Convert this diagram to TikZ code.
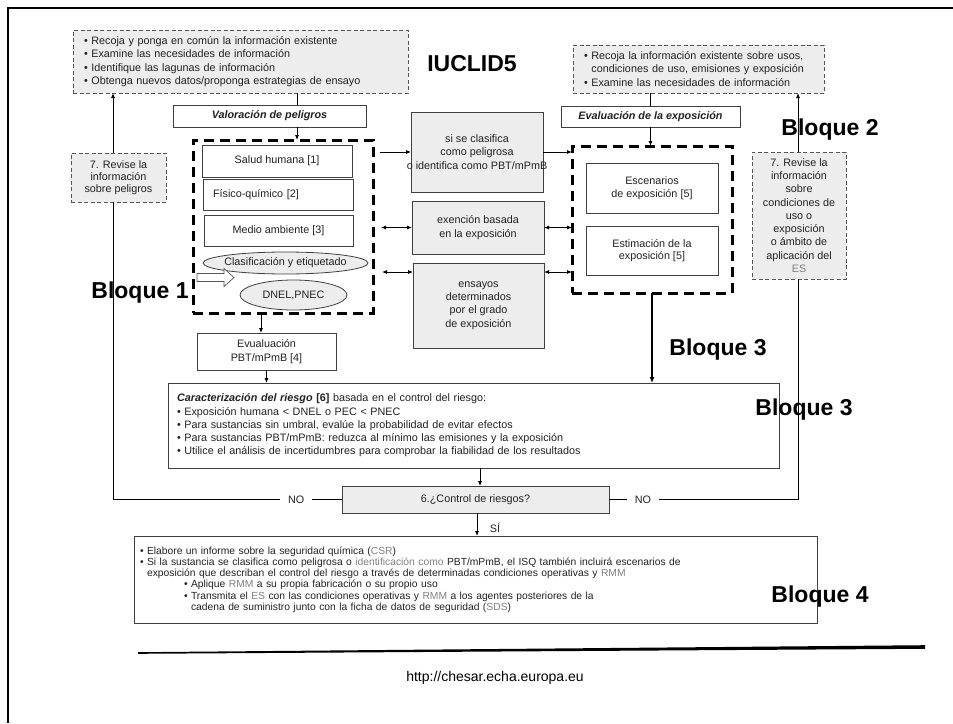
\documentclass[tikz,border=0pt]{standalone}
\usepackage{fontspec}
\setmainfont{Liberation Sans}
\usetikzlibrary{arrows.meta,shapes.geometric,calc}
\definecolor{boxgray}{HTML}{EDEDED}
\definecolor{edgecol}{HTML}{404040}
\definecolor{txt}{HTML}{222222}
\definecolor{soft}{HTML}{808080}
\definecolor{dashcol}{HTML}{555555}
\newcommand\mainfs{\fontsize{10.8}{13.3}\selectfont}
\newcommand\carfs{\fontsize{10.8}{13.3}\selectfont}
\newcommand\botfs{\fontsize{10.3}{11.2}\selectfont}
\newcommand\bigfs{\fontsize{23}{26}\selectfont\bfseries}
\begin{document}
\begin{tikzpicture}[x=1pt,y=-1pt,
  every node/.style={inner sep=0pt, outer sep=0pt, text=txt, font=\mainfs},
  box/.style={draw=edgecol, line width=0.8pt, fill=white, align=center},
  gbox/.style={box, fill=boxgray},
  dbox/.style={draw=dashcol, dash pattern=on 4pt off 2.5pt, line width=0.8pt, fill=boxgray, align=center},
  blk/.style={draw=black, line width=3pt, dash pattern=on 10pt off 6pt},
  big/.style={font=\bigfs, text=black},
  conn/.style={line width=0.8pt},
  arr/.style={-{Latex[length=5pt,width=4pt]}, line width=0.8pt},
  darr/.style={{Latex[length=5pt,width=4pt]}-{Latex[length=5pt,width=4pt]}, line width=0.8pt},
  nolab/.style={fill=white, inner xsep=8pt, inner ysep=2pt}]
\useasboundingbox (0,0) rectangle (953,723);
\fill[white] (0,0) rectangle (953,723);
\draw[line width=2.5pt] (953,8) -- (8,8) -- (8,723);

% coordinates for connector positions
\coordinate (x113) at (113,0);
\coordinate (x261) at (261,0);
\coordinate (x297) at (297,0);
\coordinate (x477) at (477,0);
\coordinate (x480) at (480,0);
\coordinate (x798) at (798,0);
\coordinate (y272) at (0,272);

% top boxes
\node[dbox, minimum width=335, minimum height=63, text width=313, align=left] (tl) at (240.5,61.5)
  {• Recoja y ponga en común la información existente\\• Examine las necesidades de información\\• Identifique las lagunas de información\\• Obtenga nuevos datos/proponga estrategias de ensayo};
\node[big] (iuclid) at (472,64) {IUCLID5};
\node[dbox, minimum width=251, minimum height=48, text width=229, align=left] (tr) at (698.5,69)
  {• Recoja la información existente sobre usos,\\\phantom{• }condiciones de uso, emisiones y exposición\\• Examine las necesidades de información};

\node[box, minimum width=193, minimum height=22, font=\mainfs\bfseries\itshape] (val) at (269.5,116) {Valoración de peligros};
\node[box, minimum width=179, minimum height=21, font=\mainfs\bfseries\itshape] (eva) at (650.5,116.5) {Evaluación de la exposición};

% block 1
\node[blk, minimum width=180, minimum height=173] (B1) at (283,226.5) {};
\node[box, minimum width=150, minimum height=32] (sh) at (277,161) {Salud humana [1]};
\node[box, minimum width=150, minimum height=31, text width=130, align=left] (fq) at (278,194.5) {Físico-químico [2]};
\node[box, minimum width=149, minimum height=31] (ma) at (278.5,230.5) {Medio ambiente [3]};
\node[ellipse, draw=edgecol, line width=0.8pt, fill=boxgray, minimum width=165, minimum height=22] (cl) at (285.5,263) {\makebox[0pt]{Clasificación y etiquetado}};
\node[ellipse, draw=edgecol, line width=0.8pt, fill=boxgray, minimum width=107, minimum height=30] (dn) at (293.5,295) {\makebox[0pt]{DNEL,PNEC}};
\draw[draw=dashcol, fill=white, line width=0.7pt] (197,273.5) -- (224,273.5) -- (224,268.5) -- (234,277.5) -- (224,286.5) -- (224,281.5) -- (197,281.5) -- cycle;

% middle gray boxes
\node[gbox, minimum width=132, minimum height=80] (g1) at (477,152) {si se clasifica\\como peligrosa\\\makebox[0pt]{o identifica como PBT/mPmB}};
\node[gbox, minimum width=132, minimum height=53] (g2) at (478,227.5) {exención basada\\en la exposición};
\node[gbox, minimum width=131, minimum height=85] (g3) at (478.5,305.5) {ensayos\\determinados\\por el grado\\de exposición};

% block 2
\node[blk, minimum width=160, minimum height=147] (B2) at (652,219.5) {};
\node[box, minimum width=132, minimum height=50] (es) at (652,188) {Escenarios\\de exposición [5]};
\node[box, minimum width=132, minimum height=49, font=\fontsize{10.8}{12.3}\selectfont] (est) at (652,250.5) {Estimación de la\\exposición [5]};

% revise boxes
\node[dbox, minimum width=95, minimum height=49, font=\fontsize{10.8}{11.8}\selectfont] (lr) at (118.5,177.5) {7. Revise la\\información\\sobre peligros};
\node[dbox, minimum width=94, minimum height=127] (rr) at (799,215.5) {7. Revise la\\información\\sobre\\condiciones de\\uso o\\exposición\\o ámbito de\\aplicación del\\\textcolor{soft}{ES}};

\node[box, minimum width=139, minimum height=37] (ev) at (266.5,351.5) {Evualuación\\PBT/mPmB [4]};

\node[box, minimum width=611, minimum height=85, text width=593, align=left, font=\carfs] (car) at (473.5,425.5)
  {\textbf{\textit{Caracterización del riesgo}} \textbf{[6]} basada en el control del riesgo:\\
   • Exposición humana < DNEL o PEC < PNEC\\
   • Para sustancias sin umbral, evalúe la probabilidad de evitar efectos\\
   • Para sustancias PBT/mPmB: reduzca al mínimo las emisiones y la exposición\\
   • Utilice el análisis de incertidumbres para comprobar la fiabilidad de los resultados};

\node[gbox, minimum width=267, minimum height=27] (ctl) at (475.5,499.5) {6.¿Control de riesgos?};

\node[box, minimum width=683, minimum height=87, text width=671, align=left, font=\botfs] (bot) at (475.5,579.5)
  {• Elabore un informe sobre la seguridad química (\textcolor{soft}{CSR})\\
   • Si la sustancia se clasifica como peligrosa o \textcolor{soft}{identificación como} PBT/mPmB, el ISQ también incluirá escenarios de\\
   \phantom{• }exposición que describan el control del riesgo a través de determinadas condiciones operativas y \textcolor{soft}{RMM}\\
   \hspace*{44pt}• Aplique \textcolor{soft}{RMM} a su propia fabricación o su propio uso\\
   \hspace*{44pt}• Transmita el \textcolor{soft}{ES} con las condiciones operativas y \textcolor{soft}{RMM} a los agentes posteriores de la\\
   \hspace*{44pt}\phantom{• }cadena de suministro junto con la ficha de datos de seguridad (\textcolor{soft}{SDS})};

% connectors
\draw[conn] (tl.south -| x297) -- (val.north -| x297);
\draw[arr] (val.south -| x297) -- (B1.north -| x297);
\draw[arr] ($(B1.east |- g1.west)+(7,0)$) -- (g1.west);
\draw[darr] ($(B1.east |- g2.west)+(8,0)$) -- (g2.west);
\draw[darr] ($(B1.east |- y272)+(9,0)$) -- (g3.west |- y272);
\draw[arr] (g1.east) -- (B2.west |- g1.east);
\draw[darr] (g2.east) -- (B2.west |- g2.east);
\draw[darr] (g3.east |- y272) -- (B2.west |- y272);
\draw[conn] (tr.south -| eva.north) -- (eva.north);
\draw[arr] (eva.south) -- (B2.north -| eva.south);
\draw[-{Latex[length=6pt,width=5pt]}, line width=1.6pt] (B2.south) -- (car.north -| B2.south);
\draw[arr] (B1.south -| x261) -- (ev.north -| x261);
\draw[arr] (ev.south) -- (car.north -| ev.south);
\draw[arr] (lr.north -| x113) -- (tl.south -| x113);
\draw[arr] (rr.north -| x798) -- (tr.south -| x798);
\draw[arr] (car.south -| x480) -- (ctl.north -| x480);
\draw[arr] (ctl.south -| x477) -- (bot.north -| x477);
\draw[conn] (ctl.west) -- node[nolab, pos=0.2] (noL) {NO} (ctl.west -| x113) -- (lr.south -| x113);
\draw[conn] (ctl.east) -- node[nolab, pos=0.18] (noR) {NO} (ctl.east -| x798) -- (rr.south -| x798);
\node (si) at (495,528) {SÍ};

% block labels
\node[big] (b1) at (140,293) {Bloque 1};
\node[big] (b2) at (830,130) {Bloque 2};
\node[big] (b3a) at (718,350) {Bloque 3};
\node[big] (b3b) at (804,410) {Bloque 3};
\node[big] (b4) at (820,597) {Bloque 4};

% footer
\fill[black] (138,652.2) -- (925,645.2) -- (925,648.8) -- (138,653.8) -- cycle;
\node[font=\fontsize{14}{16}\selectfont, text=black] (url) at (495,678) {http://chesar.echa.europa.eu};
\end{tikzpicture}
\end{document}
